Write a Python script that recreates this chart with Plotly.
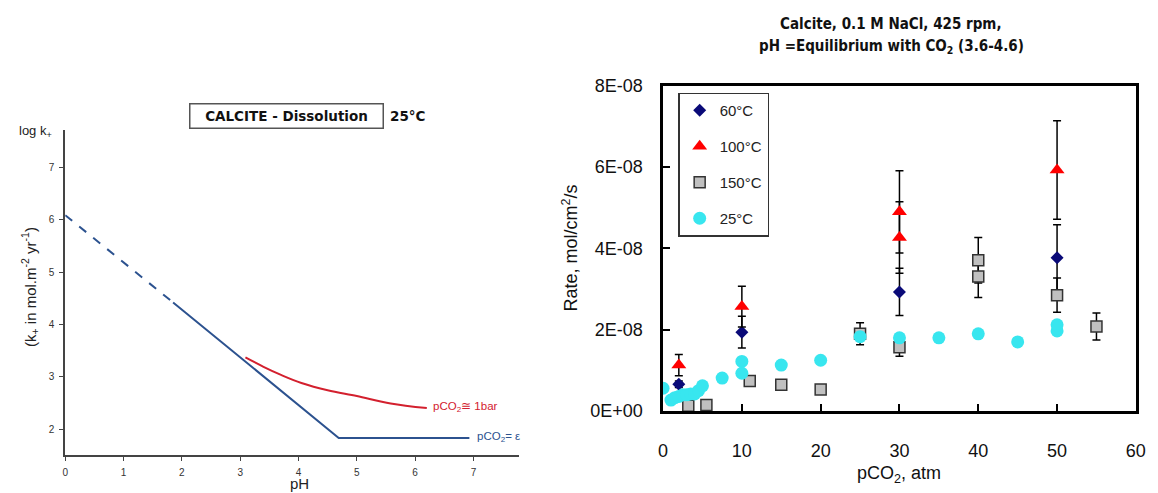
import numpy as np
import plotly.graph_objects as go

W, H = 1158, 493

# ---------------- Left panel data (log k+ vs pH) ----------------
ph_dash = [0.0, 1.85]
logk_dash = [6.09, 4.42]
ph_blue = [1.85, 4.69, 6.93]
logk_blue = [4.42, 1.83, 1.83]
ph_red = [3.09, 3.40, 3.71, 4.05, 4.50, 5.00, 5.58, 6.20]
logk_red = [3.37, 3.19, 3.03, 2.88, 2.74, 2.63, 2.49, 2.40]
left_xticks = [0, 1, 2, 3, 4, 5, 6, 7]
left_yticks = [2, 3, 4, 5, 6, 7]

# ---------------- Right panel data (rate vs pCO2) ----------------
p60 = [2, 10, 30, 50]
r60 = [0.66, 1.94, 2.93, 3.77]            # x 1e-8 mol/cm2/s
e60 = [0.08, 0.39, 0.58, 0.81]

p100 = [2, 10, 30, 30, 50]
r100 = [1.13, 2.57, 4.90, 4.27, 5.93]
e100 = [0.26, 0.50, 1.01, 0.88, 1.21]

p150 = [3.2, 5.5, 11, 15, 20, 25, 30, 40, 40, 50, 55]
r150 = [0.13, 0.15, 0.74, 0.645, 0.53, 1.90, 1.57, 3.71, 3.31, 2.85, 2.08]
e150 = [0, 0, 0, 0, 0, 0.27, 0.22, 0.56, 0.52, 0.42, 0.33]

p25 = [0, 1, 1.5, 2, 2.5, 3, 3.5, 4, 4.5, 5, 7.5, 10, 10, 15, 20, 25, 30, 35, 40, 45, 50, 50]
r25 = [0.56, 0.27, 0.33, 0.36, 0.40, 0.40, 0.42, 0.42, 0.50, 0.62, 0.81, 1.22, 0.93,
       1.13, 1.25, 1.83, 1.80, 1.80, 1.90, 1.70, 1.97, 2.12]

scale = 1e-8
right_yticks = [0, 2e-8, 4e-8, 6e-8, 8e-8]
right_yticktext = ["0E+00", "2E-08", "4E-08", "6E-08", "8E-08"]
right_xticks = [0, 10, 20, 30, 40, 50, 60]


def px(x):
    return x / W


def py(y):
    return 1 - y / H


fig = go.Figure()

BLUE = "#2C528F"
RED = "#D3202E"

# Left panel traces
fig.add_trace(go.Scatter(x=ph_dash, y=logk_dash, mode="lines",
                         line=dict(color=BLUE, width=2, dash="dash"),
                         xaxis="x", yaxis="y", showlegend=False, hoverinfo="skip"))
fig.add_trace(go.Scatter(x=ph_blue, y=logk_blue, mode="lines",
                         line=dict(color=BLUE, width=2),
                         xaxis="x", yaxis="y", showlegend=False))
fig.add_trace(go.Scatter(x=ph_red, y=logk_red, mode="lines",
                         line=dict(color=RED, width=2, shape="spline"),
                         xaxis="x", yaxis="y", showlegend=False))

# Right panel traces
err_style = dict(type="data", color="black", thickness=1.5, width=4)

fig.add_trace(go.Scatter(
    x=p60, y=np.array(r60) * scale, mode="markers", name="60°C",
    legendgroup="a",
    marker=dict(symbol="diamond", size=10, color="#0A0A78"),
    error_y=dict(array=np.array(e60) * scale, **err_style),
    xaxis="x2", yaxis="y2"))
fig.add_trace(go.Scatter(
    x=p100, y=np.array(r100) * scale, mode="markers", name="100°C",
    legendgroup="b",
    marker=dict(symbol="triangle-up", size=13, color="#FF0000"),
    error_y=dict(array=np.array(e100) * scale, **err_style),
    xaxis="x2", yaxis="y2"))
fig.add_trace(go.Scatter(
    x=p150, y=np.array(r150) * scale, mode="markers", name="150°C",
    legendgroup="c",
    marker=dict(symbol="square", size=11, color="#C0C0C0",
                line=dict(color="#333333", width=1.5)),
    error_y=dict(array=np.array(e150) * scale, **err_style),
    xaxis="x2", yaxis="y2"))
fig.add_trace(go.Scatter(
    x=p25, y=np.array(r25) * scale, mode="markers", name="25°C",
    legendgroup="d",
    marker=dict(symbol="circle", size=13, color="#38E6EF"),
    xaxis="x2", yaxis="y2"))

LFONT = "Liberation Sans, Arial, sans-serif"
WIDE = "DejaVu Sans, Liberation Sans, sans-serif"
NARROW = "Liberation Sans Narrow, Arial Narrow, DejaVu Sans Condensed, Liberation Sans, sans-serif"

fig.update_layout(
    width=W, height=H, autosize=False,
    margin=dict(l=0, r=0, t=0, b=0),
    paper_bgcolor="white", plot_bgcolor="white",
    font=dict(family=LFONT, color="#222"),
    xaxis=dict(domain=[px(61), px(520.7)], range=[0, 7.78],
               tickvals=left_xticks, showgrid=False, zeroline=False,
               showline=True, linecolor="#444", linewidth=2,
               ticks="outside", ticklen=4, tickcolor="#444", tickwidth=1,
               tickfont=dict(size=10, color="#333", family=LFONT),
               ticklabelstandoff=3,
               anchor="y"),
    yaxis=dict(domain=[py(464), py(125)], range=[1.5, 7.72],
               tickvals=left_yticks, showgrid=False, zeroline=False,
               showline=True, linecolor="#444", linewidth=2,
               ticks="outside", ticklen=4, tickcolor="#444", tickwidth=1,
               tickfont=dict(size=10, color="#333", family=LFONT),
               ticklabelstandoff=3,
               anchor="x"),
    xaxis2=dict(domain=[px(666.7), px(1145.7)], range=[0, 60],
                tickvals=right_xticks, showgrid=False, zeroline=False,
                showline=True, mirror=True, linecolor="black", linewidth=2.5,
                ticks="inside", ticklen=7, tickwidth=2, tickcolor="black",
                tickfont=dict(size=18, color="#111", family=LFONT),
                ticklabelstandoff=22,
                anchor="y2"),
    yaxis2=dict(domain=[py(418), py(79)], range=[0, 8e-8],
                tickvals=right_yticks, ticktext=right_yticktext,
                showgrid=False, zeroline=False,
                showline=True, mirror=True, linecolor="black", linewidth=2.5,
                ticks="inside", ticklen=7, tickwidth=2, tickcolor="black",
                tickfont=dict(size=18, color="#111", family=LFONT),
                ticklabelstandoff=14,
                anchor="x2"),
    showlegend=True,
    legend=dict(x=px(682), y=py(86), xanchor="left", yanchor="top",
                bgcolor="white", bordercolor="#333", borderwidth=1.5,
                font=dict(size=15, color="#222", family=LFONT),
                traceorder="grouped", tracegroupgap=13.5,
                itemwidth=30),
)


def note(x, y, text, **kw):
    d = dict(x=px(x), y=py(y), xref="paper", yref="paper", text=text,
             showarrow=False, xanchor="center", yanchor="middle")
    d.update(kw)
    return d


ann = [
    note(285.5, 111, "<b>CALCITE - Dissolution</b>",
         font=dict(size=13.5, color="#111", family=WIDE),
         bordercolor="#555", borderwidth=1.5, borderpad=2,
         width=188, height=19, bgcolor="white"),
    note(408, 111, "<b>25°C</b>", font=dict(size=13.5, color="#111", family=WIDE)),
    note(12, 127, "log k<sub>+</sub>", xanchor="left",
         font=dict(size=13, color="#222", family=LFONT)),
    note(25, 289, "(k<sub>+</sub> in mol.m<sup>-2</sup> yr<sup>-1</sup>)",
         textangle=-90, font=dict(size=15, color="#222", family=LFONT)),
    note(298, 483, "pH", yanchor="top",
         font=dict(size=15, color="#222", family=LFONT)),
    note(432, 414, "pCO<sub>2</sub>≅ 1bar", xanchor="left",
         font=dict(size=11.5, color=RED, family=LFONT)),
    note(476, 445.5, "pCO<sub>2</sub>= ε", xanchor="left",
         font=dict(size=11.5, color=BLUE, family=LFONT)),
    note(898, 15, "<b>Calcite, 0.1 M NaCl, 425 rpm,</b>",
         font=dict(size=15, color="#111", family=NARROW)),
    note(898, 38, "<b>pH =Equilibrium with CO<sub>2</sub> (3.6-4.6)</b>",
         font=dict(size=15, color="#111", family=NARROW)),
    note(573, 248, "Rate, mol/cm<sup>2</sup>/s", textangle=-90,
         font=dict(size=18, color="#111", family=LFONT)),
    note(906, 484, "pCO<sub>2</sub>, atm",
         font=dict(size=18, color="#111", family=LFONT)),
]

fig.update_layout(annotations=ann)

fig.write_html("out.html")
